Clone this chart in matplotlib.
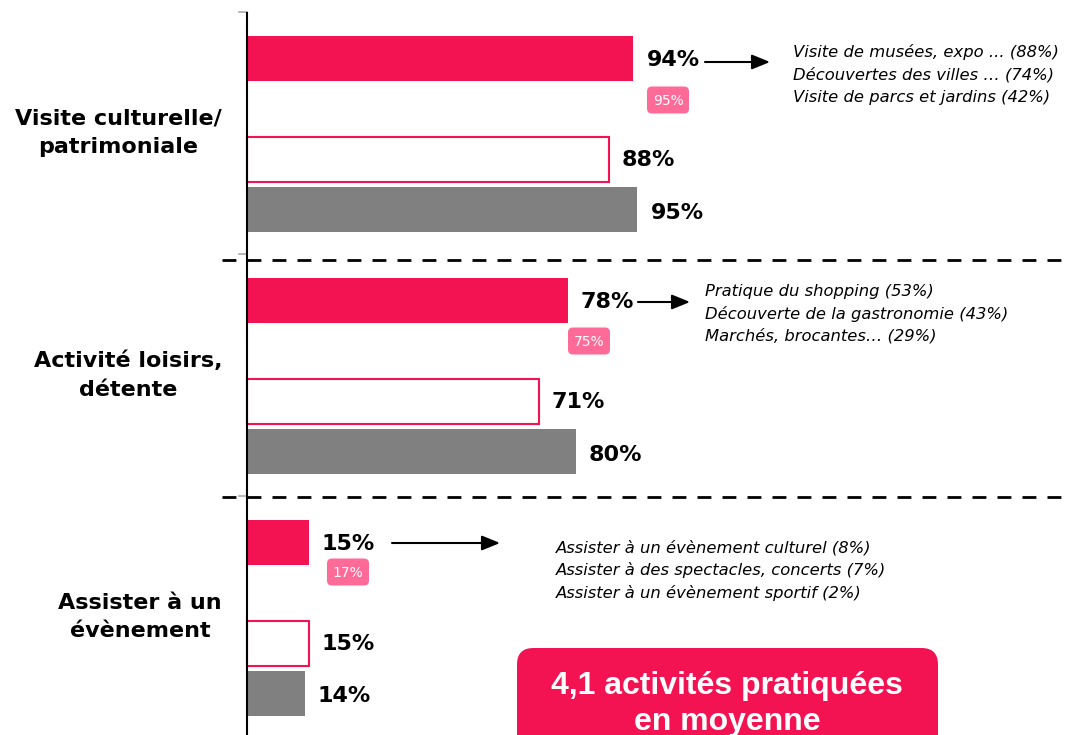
import matplotlib
matplotlib.use("Agg")
import matplotlib.pyplot as plt
from matplotlib.patches import FancyBboxPatch
from matplotlib import font_manager as fm

categories = ["Visite culturelle/\npatrimoniale", "Activité loisirs,\ndétente", "Assister à un\névènement"]
current = [94, 78, 15]
previous_badge = ["95%", "75%", "17%"]
outline_vals = [88, 71, 15]
gray_vals = [95, 80, 14]
details = [
    ["Visite de musées, expo ... (88%)", "Découvertes des villes … (74%)", "Visite de parcs et jardins (42%)"],
    ["Pratique du shopping (53%)", "Découverte de la gastronomie (43%)", "Marchés, brocantes… (29%)"],
    ["Assister à un évènement culturel (8%)", "Assister à des spectacles, concerts (7%)", "Assister à un évènement sportif (2%)"],
]
summary = "4,1 activités pratiquées\nen moyenne"

PINK = "#F41352"
BADGE = "#FF6B98"
GRAY = "#808080"

# find regular-width Liberation Sans Bold
box_font = None
for f in fm.fontManager.ttflist:
    if f.fname.endswith("LiberationSans-Bold.ttf"):
        box_font = fm.FontProperties(fname=f.fname, size=23)
        break
if box_font is None:
    box_font = fm.FontProperties(family="DejaVu Sans", weight="bold", size=21)

W, H = 1068, 735
PX = 4.11  # px per percent
X0 = 247
fig = plt.figure(figsize=(W / 100, H / 100), dpi=100)
ax = fig.add_axes([0, 0, 1, 1])
ax.set_xlim(-X0 / PX, (W - X0) / PX)
ax.set_ylim(H, 0)
ax.axis("off")

def px(x):
    return (x - X0) / PX

group_h = 242
top = 12
bar_h = 45
for i in range(3):
    g = top + i * group_h
    y1, y2, y3 = g + 46.5, g + 147, g + 197.5
    ax.barh(y1, current[i], height=bar_h, color=PINK, edgecolor="none")
    ax.barh(y2, outline_vals[i], height=bar_h, color="white", edgecolor=PINK, linewidth=1.5)
    ax.barh(y3, gray_vals[i], height=bar_h, color=GRAY, edgecolor="none")
    off = 3.2
    lbl = dict(fontsize=16, fontweight="bold", va="center", ha="left", color="black", family="DejaVu Sans")
    ax.text(current[i] + off, y1 + 1, f"{current[i]}%", **lbl)
    ax.text(outline_vals[i] + off, y2 + 1, f"{outline_vals[i]}%", **lbl)
    ax.text(gray_vals[i] + off, y3 + 3, f"{gray_vals[i]}%", **lbl)
    # category label
    ax.text(px(222), g + 121, categories[i], fontsize=16, fontweight="bold",
            ha="right", va="center", multialignment="center", linespacing=1.55)
    # tick mark
    ax.plot([px(239), px(247)], [g, g], color="#aaaaaa", lw=1.2)

# badges
badge_pos = [(668, 100), (589, 341), (348, 572)]
for (bx, by), t in zip(badge_pos, previous_badge):
    w, h = 42, 27
    p = FancyBboxPatch((px(bx - w / 2), by - h / 2), w / PX, h, boxstyle="round,pad=0,rounding_size=1.2",
                       facecolor=BADGE, edgecolor="none", mutation_aspect=PX)
    ax.add_patch(p)
    ax.text(px(bx), by + 1, t, color="white", fontsize=10, ha="center", va="center")

# arrows
arrows = [((705, 62), (770, 62)), ((638, 302), (690, 302)), ((392, 543), (500, 543))]
for (xa, ya), (xb, yb) in arrows:
    ax.annotate("", xy=(px(xb), yb), xytext=(px(xa), ya),
                arrowprops=dict(arrowstyle="-|>,head_length=1.1,head_width=0.45", color="black", lw=1.5,
                                shrinkA=0, shrinkB=0))

# detail texts
detail_pos = [(793, 52), (705, 291), (556, 548)]
for (dx, dy), lines in zip(detail_pos, details):
    for k, line in enumerate(lines):
        ax.text(px(dx), dy + k * 22.5, line, fontsize=11.8, style="italic", ha="left", va="center")

# axis line
ax.plot([0, 0], [12, H], color="black", lw=1.5, solid_capstyle="butt")

# dashed separators
for yy in [260, 497]:
    ax.plot([px(222), px(W)], [yy, yy], color="black", lw=2, dashes=(5, 4))

# summary box
box = FancyBboxPatch((px(517), 648), (938 - 517) / PX, 120,
                     boxstyle="round,pad=0,rounding_size=4", facecolor=PINK, edgecolor="none",
                     mutation_aspect=PX)
ax.add_patch(box)
ax.text(px(727), 704, summary, color="white", fontproperties=box_font,
        ha="center", va="center", linespacing=1.25)

fig.savefig("out.png", dpi=100)
